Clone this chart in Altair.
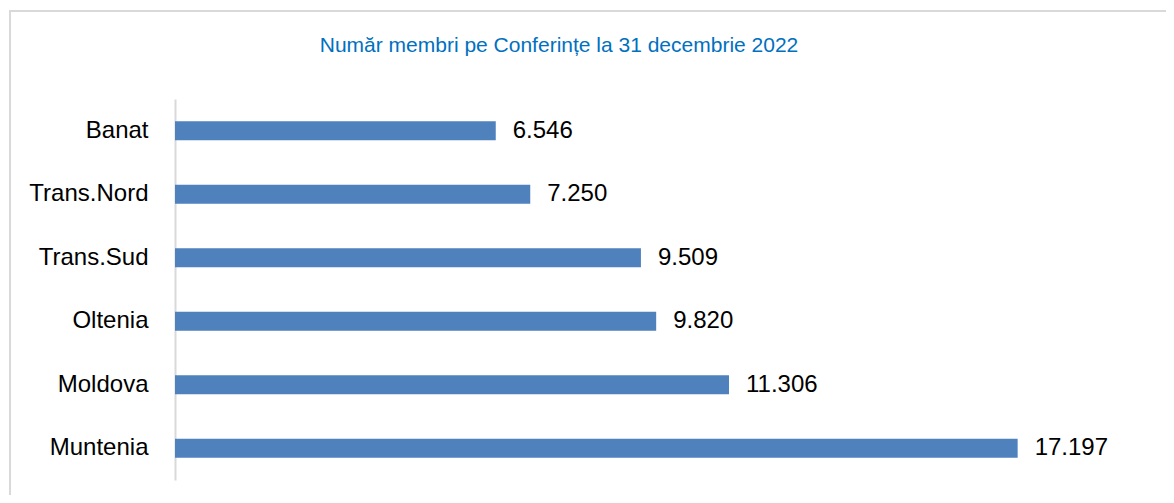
import altair as alt
import pandas as pd

categories = ["Banat", "Trans.Nord", "Trans.Sud", "Oltenia", "Moldova", "Muntenia"]
values = [6546, 7250, 9509, 9820, 11306, 17197]
title_text = "Număr membri pe Conferințe la 31 decembrie 2022"

df = pd.DataFrame({"conf": categories, "value": values})

FONT = "Liberation Sans, Arial"
W, H = 980, 381

base = alt.Chart(df)

border = base.mark_rect(fill=None, stroke="#D9D9D9", strokeWidth=2).encode(
    x=alt.value(-165), x2=alt.value(W + 40),
    y=alt.value(-88), y2=alt.value(H + 60),
).transform_filter("datum.conf == 'Banat'")

y_enc = alt.Y(
    "conf:N", sort=categories, title=None,
    scale=alt.Scale(paddingInner=0.7, paddingOuter=0.35),
    axis=alt.Axis(
        domain=True, domainColor="#D9D9D9", domainWidth=2, ticks=False, grid=False,
        labelFontSize=24, labelFont=FONT, labelColor="#000000", labelPadding=27,
    ),
)
x_enc = alt.X("value:Q", scale=alt.Scale(domain=[0, 20000], nice=False), axis=None, title=None)

bars = base.mark_bar(color="#4F81BD").encode(x=x_enc, y=y_enc)

labels = base.mark_text(
    align="left", baseline="middle", dx=17, fontSize=24, font=FONT, color="#000000"
).transform_calculate(
    label="replace(format(datum.value, ','), ',', '.')"
).encode(x=x_enc, y=y_enc, text="label:N")

chart = alt.layer(border, bars, labels).properties(
    width=W, height=H,
    autosize=alt.AutoSizeParams(type="none"),
    padding={"left": 167, "top": 91, "right": 11, "bottom": 15},
    title=alt.TitleParams(
        text=title_text, anchor="middle", frame="group", dx=-106,
        baseline="alphabetic", offset=-63, fontSize=21, font=FONT,
        fontWeight="normal", color="#0070C0",
    ),
).configure_view(stroke=None)

chart.save("out.html", embed_options={"renderer": "svg", "actions": False})
